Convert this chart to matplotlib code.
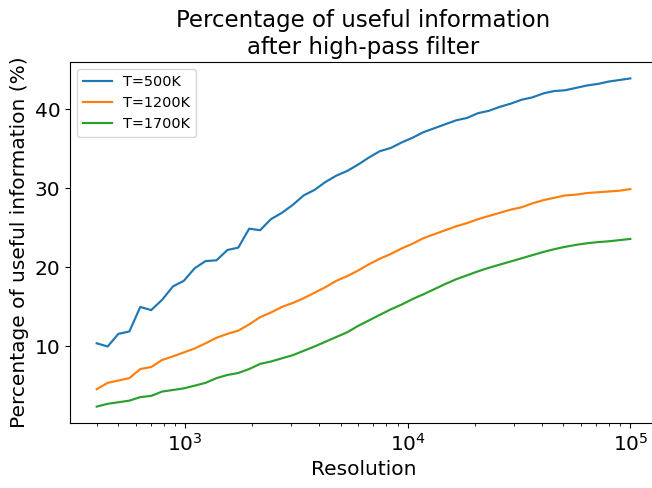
import matplotlib
matplotlib.use("Agg")
import matplotlib.pyplot as plt

resolution = [400, 448, 501, 561, 628, 703, 787, 881, 985, 1103,
              1234, 1382, 1547, 1731, 1938, 2169, 2427, 2717, 3041, 3404,
              3810, 4265, 4773, 5343, 5980, 6694, 7492, 8386, 9386, 10506,
              11760, 13162, 14733, 16490, 18458, 20660, 23124, 25883, 28971, 32427,
              36296, 40626, 45472, 50897, 56969, 63765, 71372, 79887, 89417, 100000]

t500 = [10.4, 10.0, 11.6, 11.9, 15.0, 14.6, 15.9, 17.6, 18.3, 19.9,
        20.8, 20.9, 22.2, 22.5, 24.9, 24.7, 26.1, 26.9, 27.9, 29.1,
        29.8, 30.8, 31.6, 32.2, 33.0, 33.9, 34.7, 35.1, 35.8, 36.4,
        37.1, 37.6, 38.1, 38.6, 38.9, 39.5, 39.8, 40.3, 40.7, 41.2,
        41.5, 42.0, 42.3, 42.4, 42.7, 43.0, 43.2, 43.5, 43.7, 43.9]

t1200 = [4.6, 5.4, 5.7, 6.0, 7.15, 7.4, 8.3, 8.75, 9.25, 9.75,
         10.4, 11.1, 11.6, 12.0, 12.8, 13.7, 14.3, 15.0, 15.5, 16.1,
         16.8, 17.5, 18.3, 18.9, 19.6, 20.4, 21.1, 21.7, 22.4, 23.0,
         23.7, 24.2, 24.7, 25.2, 25.6, 26.1, 26.5, 26.9, 27.3, 27.6,
         28.1, 28.5, 28.8, 29.1, 29.2, 29.4, 29.5, 29.6, 29.7, 29.9]

t1700 = [2.4, 2.75, 2.95, 3.15, 3.6, 3.75, 4.3, 4.5, 4.7, 5.05,
         5.4, 6.0, 6.4, 6.65, 7.15, 7.8, 8.1, 8.5, 8.9, 9.45,
         10.0, 10.6, 11.2, 11.8, 12.6, 13.3, 14.0, 14.7, 15.3, 16.0,
         16.6, 17.25, 17.9, 18.5, 19.0, 19.5, 19.95, 20.35, 20.75, 21.15,
         21.55, 21.95, 22.3, 22.6, 22.85, 23.05, 23.2, 23.3, 23.45, 23.6]

labels = ["T=500K", "T=1200K", "T=1700K"]

fig = plt.figure(figsize=(6.52, 4.88), dpi=100)
ax = fig.add_axes([70 / 652, 65 / 488, 587 / 652, 361 / 488])

lw = 1.56
ax.plot(resolution, t500, label=labels[0], lw=lw)
ax.plot(resolution, t1200, label=labels[1], lw=lw)
ax.plot(resolution, t1700, label=labels[2], lw=lw)
ax.set_xscale("log")
ax.spines["right"].set_visible(False)

ax.set_title("Percentage of useful information\nafter high-pass filter", fontsize=16.5)
ax.set_xlabel("Resolution", fontsize=14.5)
ax.set_ylabel("Percentage of useful information (%)", fontsize=14.5)
ax.tick_params(axis="both", which="major", labelsize=14.5)
ax.set_yticks([10, 20, 30, 40])
ax.legend(loc="upper left", fontsize=10.4)

fig.savefig("out.png", dpi=100)
